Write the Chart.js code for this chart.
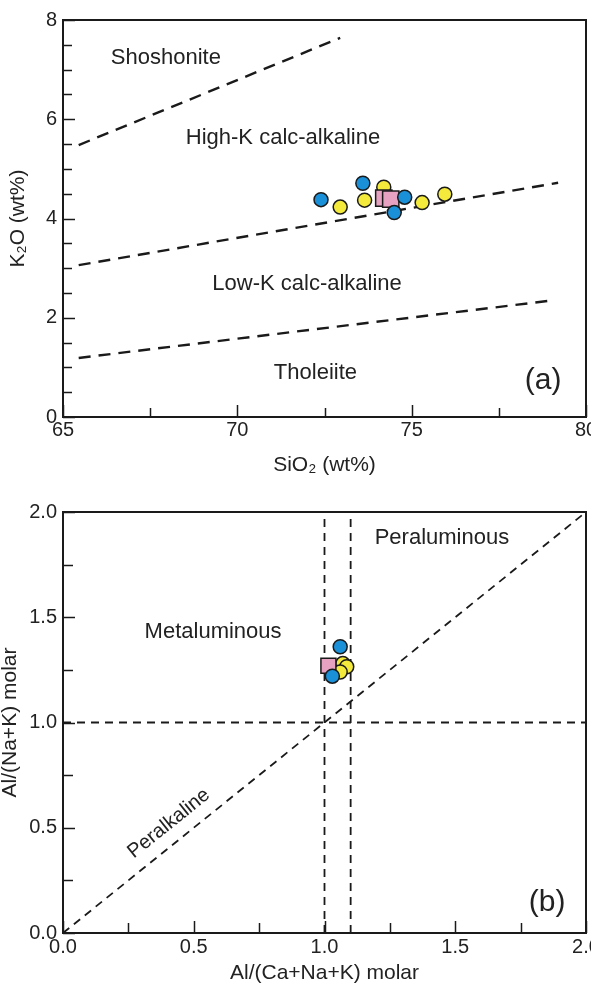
<!DOCTYPE html>
<html>
<head>
<meta charset="utf-8">
<script src="https://cdn.jsdelivr.net/npm/chart.js@4.4.1/dist/chart.umd.min.js"></script>
<style>
  html, body { margin: 0; padding: 0; background: #fff; }
  #chartA { position: absolute; left: 0; top: 0; }
  #chartB { position: absolute; left: 0; top: 483px; }
</style>
</head>
<body>
<canvas id="chartA" width="591" height="483"></canvas>
<canvas id="chartB" width="591" height="500"></canvas>
<script>
// ---- (a) K2O vs SiO2 ----
const blueA = [[72.4, 4.38], [73.6, 4.71], [74.8, 4.43], [74.5, 4.12]];
const yellowA = [[72.95, 4.23], [73.65, 4.37], [74.2, 4.63], [75.3, 4.32], [75.95, 4.49]];
const pinkA = [[74.2, 4.41], [74.4, 4.39]];

// field boundaries (SiO2, K2O)
const shoshLine = [[65.45, 5.48], [72.95, 7.64]];
const highKLine = [[65.45, 3.06], [79.2, 4.72]];
const lowKLine = [[65.45, 1.19], [79.05, 2.35]];

const fieldNamesA = ['Shoshonite', 'High-K calc-alkaline', 'Low-K calc-alkaline', 'Tholeiite', '(a)'];
const fieldAtA = [[67.95, 7.23], [71.31, 5.62], [72.0, 2.68], [72.24, 0.89], [78.77, 0.73]];

// ---- (b) A/NK vs A/CNK ----
const blueB = [[1.06, 1.36], [1.03, 1.22]];
const yellowB = [[1.07, 1.28], [1.085, 1.265], [1.06, 1.24]];
const pinkB = [[1.015, 1.27]];

const acnk1Line = [[1.0, 0], [1.0, 2]];
const acnk2Line = [[1.1, 0], [1.1, 2]];
const ankLine = [[0, 1.0], [2, 1.0]];
const diagLine = [[0, 0], [2, 2]];

const fieldNamesB = ['Peraluminous', 'Metaluminous', 'Peralkaline', '(b)'];
const fieldAtB = [[1.449, 1.876], [0.574, 1.43], [0.405, 0.52], [1.851, 0.143]];

const FONT = '"Liberation Sans", Arial, Helvetica, sans-serif';
const BLUE = '#1a90d9', YELLOW = '#f3ea3c', PINK = '#e6a2c0', INK = '#1a1a1a';

// frame, inward ticks and field names
const decor = {
  id: 'decor',
  afterDatasetsDraw(chart, args, o) {
    const ctx = chart.ctx;
    const xs = chart.scales.x, ys = chart.scales.y;
    ctx.save();
    ctx.fillStyle = '#222';
    ctx.textAlign = 'center';
    ctx.textBaseline = 'middle';
    o.names.forEach((t, i) => {
      const px = xs.getPixelForValue(o.at[i][0]);
      const py = ys.getPixelForValue(o.at[i][1]);
      ctx.save();
      ctx.translate(px, py);
      if (o.rot && o.rot[i]) ctx.rotate(o.rot[i] * Math.PI / 180);
      ctx.font = o.sizes[i] + 'px ' + FONT;
      ctx.fillText(t, 0, 0);
      ctx.restore();
    });
    ctx.restore();
  },
  afterDraw(chart, args, o) {
    const ctx = chart.ctx;
    const {left, right, top, bottom} = chart.chartArea;
    const xs = chart.scales.x, ys = chart.scales.y;
    ctx.save();
    ctx.strokeStyle = INK;
    ctx.lineWidth = 1.5;
    xs.ticks.forEach(t => {
      const p = Math.round(xs.getPixelForValue(t.value)) + 0.5;
      const len = t.label !== '' ? o.major : o.minor;
      ctx.beginPath(); ctx.moveTo(p, bottom); ctx.lineTo(p, bottom - len); ctx.stroke();
    });
    ys.ticks.forEach(t => {
      const p = Math.round(ys.getPixelForValue(t.value)) + 0.5;
      const len = t.label !== '' ? o.major : o.minor;
      ctx.beginPath(); ctx.moveTo(left, p); ctx.lineTo(left + len, p); ctx.stroke();
    });
    ctx.lineWidth = 2;
    ctx.strokeRect(left, top, right - left, bottom - top);
    ctx.restore();
  }
};

function boundary(data, dash, width) {
  return { data, showLine: true, pointRadius: 0, borderColor: INK, borderWidth: width,
           borderDash: dash, fill: false, order: 10 };
}
function samples(data, color, style, radius, order) {
  return { data, pointStyle: style, pointRadius: radius, backgroundColor: color,
           borderColor: INK, pointBorderWidth: 1.5, borderWidth: 1.5, order };
}
function fixBox(w, h) {
  return s => {
    if (w !== null) s.width = w;
    if (h !== null) s.height = h;
    s.paddingLeft = 0; s.paddingRight = 0; s.paddingTop = 0; s.paddingBottom = 0;
  };
}
const noGrid = { display: false, drawTicks: false };

new Chart(document.getElementById('chartA'), {
  type: 'scatter',
  data: {
    datasets: [
      boundary(shoshLine, [12, 8], 2.4),
      boundary(highKLine, [12, 8], 2.4),
      boundary(lowKLine, [12, 8], 2.4),
      samples(yellowA, YELLOW, 'circle', 7, 3),
      samples(pinkA, PINK, 'rect', 11.5, 2),
      samples(blueA, BLUE, 'circle', 7, 1)
    ]
  },
  options: {
    responsive: false,
    animation: false,
    layout: { autoPadding: false, padding: { top: 20, right: 5, left: 0, bottom: 0 } },
    plugins: {
      legend: { display: false },
      tooltip: { enabled: false },
      decor: { names: fieldNamesA, at: fieldAtA, sizes: [22, 22, 22, 22, 30], major: 12, minor: 9 }
    },
    scales: {
      x: {
        type: 'linear', min: 65, max: 80,
        afterFit: fixBox(null, 66),
        grid: noGrid, border: { display: false },
        ticks: { stepSize: 2.5, autoSkip: false, maxRotation: 0, padding: 3, color: '#222',
                 font: { family: FONT, size: 20, lineHeight: 1 },
                 callback: v => (v % 5 === 0 ? String(v) : '') },
        title: { display: true, text: 'SiO₂ (wt%)', color: '#222',
                 font: { family: FONT, size: 21 }, padding: { top: 0, bottom: 5 } }
      },
      y: {
        type: 'linear', min: 0, max: 8,
        afterFit: fixBox(63, null),
        grid: noGrid, border: { display: false },
        ticks: { stepSize: 0.5, autoSkip: false, padding: 6, color: '#222',
                 font: { family: FONT, size: 20, lineHeight: 1 },
                 callback: v => (v % 2 === 0 ? String(v) : '') },
        title: { display: true, text: 'K₂O (wt%)', color: '#222',
                 font: { family: FONT, size: 21 }, padding: { top: 6, bottom: 0 } }
      }
    }
  },
  plugins: [decor]
});

const half = v => Math.abs(v * 2 - Math.round(v * 2)) < 1e-9;

new Chart(document.getElementById('chartB'), {
  type: 'scatter',
  data: {
    datasets: [
      boundary(acnk1Line, [8, 6], 1.8),
      boundary(acnk2Line, [8, 6], 1.8),
      boundary(ankLine, [8, 6], 1.8),
      boundary(diagLine, [8, 6], 1.8),
      samples(yellowB, YELLOW, 'circle', 7, 3),
      samples(pinkB, PINK, 'rect', 10.6, 2),
      samples(blueB, BLUE, 'circle', 7, 1)
    ]
  },
  options: {
    responsive: false,
    animation: false,
    layout: { autoPadding: false, padding: { top: 29, right: 5, left: 0, bottom: 0 } },
    plugins: {
      legend: { display: false },
      tooltip: { enabled: false },
      decor: { names: fieldNamesB, at: fieldAtB, sizes: [22, 22, 20, 30], rot: [0, 0, -38.8, 0],
               major: 12, minor: 10 }
    },
    scales: {
      x: {
        type: 'linear', min: 0, max: 2,
        afterFit: fixBox(null, 50),
        grid: noGrid, border: { display: false },
        ticks: { stepSize: 0.25, autoSkip: false, maxRotation: 0, padding: 4, color: '#222',
                 font: { family: FONT, size: 20, lineHeight: 1 },
                 callback: v => (half(v) ? v.toFixed(1) : '') },
        title: { display: true, text: 'Al/(Ca+Na+K) molar', color: '#222',
                 font: { family: FONT, size: 21, lineHeight: 0.9 }, padding: { top: 0, bottom: 0 } }
      },
      y: {
        type: 'linear', min: 0, max: 2,
        afterFit: fixBox(63, null),
        grid: noGrid, border: { display: false },
        ticks: { stepSize: 0.25, autoSkip: false, padding: 6, color: '#222',
                 font: { family: FONT, size: 20, lineHeight: 1 },
                 callback: v => (half(v) ? v.toFixed(1) : '') },
        title: { display: true, text: 'Al/(Na+K) molar', color: '#222',
                 font: { family: FONT, size: 21, lineHeight: 1 }, padding: { top: 0, bottom: 0 } }
      }
    }
  },
  plugins: [decor]
});
</script>
</body>
</html>
